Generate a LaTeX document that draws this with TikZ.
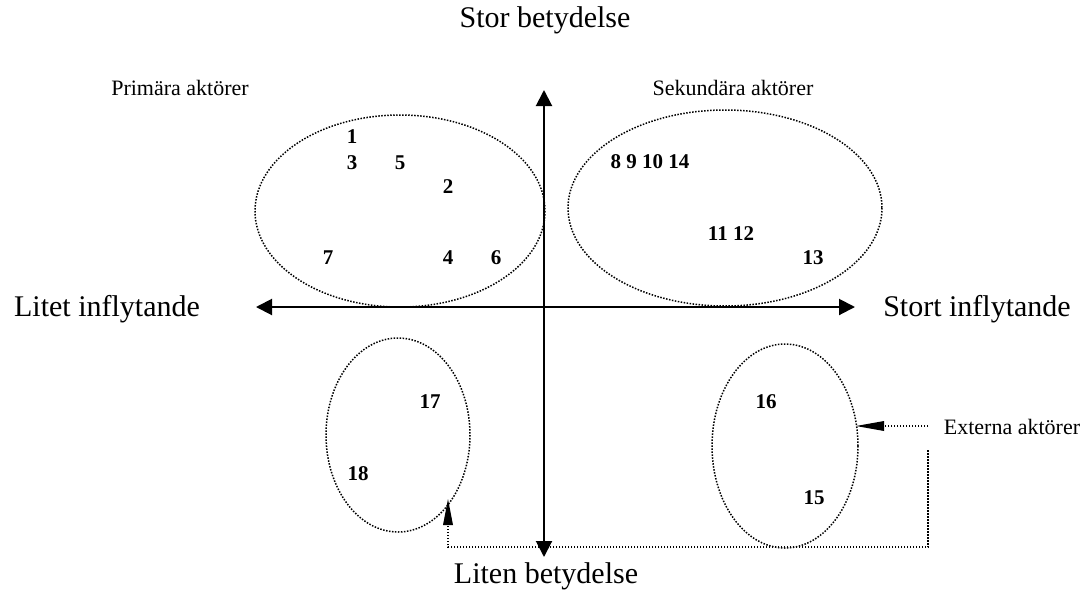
\documentclass[tikz,border=0pt]{standalone}
\usepackage{fontspec}
\setmainfont{Liberation Serif}
\usetikzlibrary{arrows.meta}
\begin{document}
\begin{tikzpicture}[x=1pt,y=-1pt,
  big/.style={font=\fontsize{30}{34}\selectfont, inner sep=0pt},
  small/.style={font=\fontsize{22}{26}\selectfont, inner sep=0pt},
  num/.style={font=\fontsize{21}{24}\selectfont\bfseries, inner sep=0pt},
  axis/.style={line width=2pt, -{Triangle[length=16pt,width=16pt]}},
  dotline/.style={line width=1.5pt, dash pattern=on 1.5pt off 1.5pt},
  grp/.style={ellipse, draw, dotline, inner sep=0pt}
]
\useasboundingbox (0,0) rectangle (1085,590);
% axes
\coordinate (c) at (544,307);
\coordinate (L) at (256,307);
\coordinate (R) at (855,307);
\coordinate (T) at (544,90);
\coordinate (B) at (544,557);
\draw[axis] (c) -- (L);
\draw[axis] (c) -- (R);
\draw[axis] (c) -- (T);
\draw[axis] (c) -- (B);
% axis labels
\node[big] (stor) at (545,20) {Stor betydelse};
\node[big] (liten) at (546,576) {Liten betydelse};
\node[big] (litet) at (107,309) {Litet inflytande};
\node[big] (stort) at (977,309) {Stort inflytande};
% groups
\draw[dotline] (400,211) ellipse [x radius=145, y radius=96];
\draw[dotline] (725,208) ellipse [x radius=157, y radius=98];
\draw[dotline] (398,435) ellipse [x radius=72, y radius=97];
\draw[dotline] (785,446) ellipse [x radius=73, y radius=102];
\node[small] (prim) at (180,88) {Primära aktörer};
\node[small] (sek) at (733,88) {Sekundära aktörer};
\node[small] (ext) at (1012,427) {Externa aktörer};
% numbers
\node[num] (n1) at (352,137) {1};
\node[num] (n3) at (352,163) {3};
\node[num] (n5) at (400,163) {5};
\node[num] (n2) at (448,187) {2};
\node[num] (n7) at (328,258) {7};
\node[num] (n4) at (448,258) {4};
\node[num] (n6) at (496,258) {6};
\node[num] (n8) at (650,162) {8 9 10 14};
\node[num] (n11) at (731,234) {11 12};
\node[num] (n13) at (813,258) {13};
\node[num] (n17) at (430,402) {17};
\node[num] (n18) at (358,474) {18};
\node[num] (n16) at (766,402) {16};
\node[num] (n15) at (814,498) {15};
% external connectors
\coordinate (e0) at (928,426);
\coordinate (e1) at (856,426);
\draw[dotline] (e0) -- (883,426);
\fill (e1) -- (884,421) -- (884,431) -- cycle;
\coordinate (p0) at (928,450);
\coordinate (p1) at (928,547);
\coordinate (p2) at (448,547);
\coordinate (p3) at (448,499);
\draw[dotline] (p0) -- (p1) -- (p2) -- (448,525);
\fill (p3) -- (443,525) -- (453,525) -- cycle;
\end{tikzpicture}
\end{document}
